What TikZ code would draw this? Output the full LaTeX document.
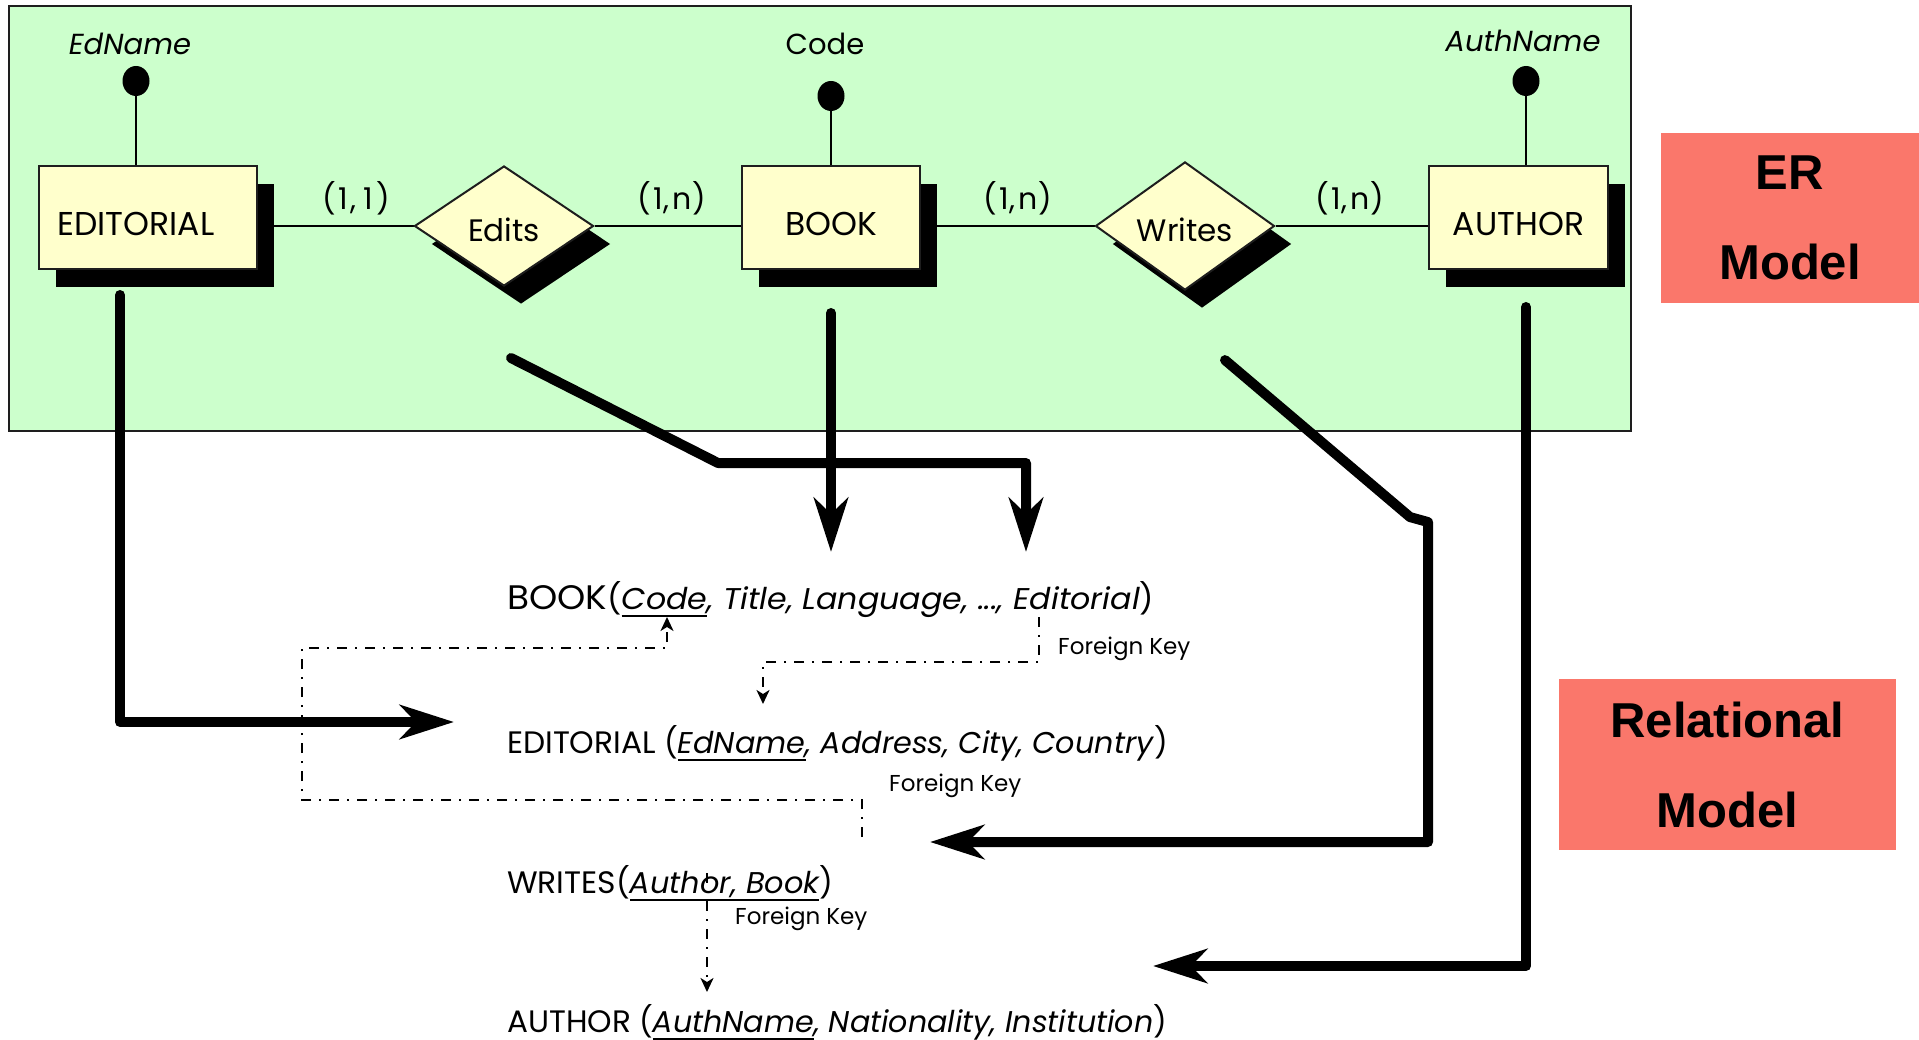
\documentclass[tikz,border=0pt]{standalone}
\usepackage{fontspec}
\usepackage{graphicx}
\setmainfont{Poppins}
\newfontfamily\tagfont{Liberation Sans}
\usetikzlibrary{arrows.meta,shapes.geometric,shadows,calc}
\pgfdeclarelayer{bg}
\pgfdeclarelayer{links}
\pgfsetlayers{bg,links,main}

\definecolor{ergreen}{HTML}{CCFFCC}
\definecolor{entfill}{HTML}{FFFFCC}
\definecolor{tagred}{HTML}{FA776B}
\definecolor{edgegray}{HTML}{1E1E1E}

% font size helper and key underline
\newcommand\setfs[2]{\fontsize{#1pt}{#2pt}\selectfont}
\newcommand\keyul[1]{\setbox0=\hbox{#1}\rlap{\rule[-8pt]{\wd0}{2.4pt}}\box0}

\tikzset{
  boxshadow/.style={general shadow={fill=black, shadow xshift=17pt, shadow yshift=-18pt}},
  frame/.style={rectangle, draw=edgegray, line width=2.5pt, fill=ergreen, inner sep=0pt},
  entity/.style={rectangle, draw=edgegray, line width=2pt, fill=entfill,
    minimum height=103pt, inner sep=0pt, text height=37pt, text depth=0pt,
    font=\setfs{33}{39}, boxshadow},
  relship/.style={diamond, draw=edgegray, line width=2pt, fill=entfill,
    minimum width=179pt, minimum height=120pt, inner sep=0pt,
    text height=32pt, text depth=0pt, font=\setfs{31}{37}, boxshadow},
  keydot/.style={ellipse, fill=black, minimum width=27pt, minimum height=30pt, inner sep=0pt},
  attr/.style={inner sep=0pt, anchor=base, font=\setfs{29}{35}\itshape},
  card/.style={inner sep=0pt, anchor=base, font=\setfs{30}{36}},
  erline/.style={line width=2pt, draw=black},
  rel/.style={inner sep=0pt, anchor=base west},
  fk/.style={inner sep=0pt, anchor=base west, font=\setfs{23}{28}},
  tag/.style={rectangle, fill=tagred, inner sep=0pt, align=center,
    font=\tagfont\bfseries\setfs{49}{90}},
  bigarrow/.style={line width=10pt, line cap=round, line join=round,
    -{Stealth[length=54pt,width=34pt,inset=16pt]}},
  fkline/.style={line width=2pt, dash pattern=on 10pt off 8pt on 2pt off 8pt,
    -{Stealth[length=14pt,width=13pt,inset=4pt]}}
}

\begin{document}
\begin{tikzpicture}[x=1pt,y=-1pt]
\useasboundingbox (0,0) rectangle (1919,1040);

% ---------- ER model ----------
\begin{pgfonlayer}{bg}
  \node[frame, minimum width=1622pt, minimum height=425pt] (erframe) at (820,218.5) {};
\end{pgfonlayer}

\node[entity, minimum width=218pt] (ed) at (148,217.5) {EDITORIAL\hspace*{24pt}};
\node[entity, minimum width=178pt] (book) at (831,217.5) {BOOK};
\node[entity, minimum width=179pt] (auth) at (1518.5,217.5) {AUTHOR};

\node[relship] (edits) at (504,226) {Edits};
\node[relship] (writes) at (1185,226) {Writes};

\node[keydot] (edkey) at (136,81) {};
\node[keydot] (bookkey) at (831,96) {};
\node[keydot] (authkey) at (1526,81) {};

\node[attr] (edname) at (130,55) {EdName};
\node[attr, font=\setfs{29}{35}] (code) at (825,55) {Code};
\node[attr] (authname) at (1523,52) {AuthName};

\node[card] (c1) at (356,210) {(\kern3pt1\kern2pt,\kern7pt1\kern3pt)};
\node[card] (c2) at (672,210) {(\kern2pt1\kern1pt,\kern3pt n\kern1pt)};
\node[card] (c3) at (1018,210) {(\kern2pt1\kern1pt,\kern3pt n\kern1pt)};
\node[card] (c4) at (1350,210) {(\kern2pt1\kern1pt,\kern3pt n\kern1pt)};

\begin{pgfonlayer}{links}
  \draw[erline] (edits.west) -- (edits.west -| ed.east);
  \draw[erline] (edits.east) -- (edits.east -| book.west);
  \draw[erline] (writes.west) -- (writes.west -| book.east);
  \draw[erline] (writes.east) -- (writes.east -| auth.west);
  \draw[erline] (edkey) -- (edkey |- ed.north);
  \draw[erline] (bookkey) -- (bookkey |- book.north);
  \draw[erline] (authkey) -- (authkey |- auth.north);
\end{pgfonlayer}

% ---------- side tags ----------
\node[tag, minimum width=258pt, minimum height=170pt] (ertag) at (1790,218) {ER\\Model};
\node[tag, minimum width=337pt, minimum height=171pt] (reltag) at (1727.5,764.5) {Relational\\Model};

% ---------- relational model ----------
\node[rel] (rbook) at (507,609) {\resizebox{647pt}{\height}{\setfs{34}{40}BOOK\setfs{30}{36}(\keyul{\itshape Code}\textit{, Title, Language, ..., Editorial})}};
\node[rel] (red) at (507,753) {\resizebox{661pt}{\height}{\setfs{31}{37}EDITORIAL \setfs{30}{36}(\keyul{\itshape EdName}\textit{, Address, City, Country})}};
\node[rel] (rwr) at (507,893) {\resizebox{326pt}{\height}{\setfs{31}{37}WRITES\setfs{30}{36}(\keyul{\itshape Author, Book})}};
\node[rel] (rau) at (507,1032) {\resizebox{660pt}{\height}{\setfs{31}{37}AUTHOR \setfs{30}{36}(\keyul{\itshape AuthName}\textit{, Nationality, Institution})}};

\node[fk] (fk1) at (1058,654) {Foreign Key};
\node[fk] (fk2) at (889,791) {Foreign Key};
\node[fk] (fk3) at (735,924) {Foreign Key};

% foreign key references
\draw[fkline] ($(rbook.base west)+(532,8)$) -- ++(0,45) -| ($(red.base west)+(256,-49)$);
\draw[fkline] ($(rwr.base west)+(355,-56)$) -- ++(0,-37) -- ++(-560,0)
  |- ($(rbook.base west)+(160,39)$) -- ($(rbook.base west)+(160,8)$);
\draw[fkline] ($(rwr.base west)+(200,-20)$) -- ($(rau.base west)+(200,-40)$);

% ---------- mapping arrows ----------
\draw[bigarrow] ($(ed.south west)+(82,25)$) |- ($(red.base west)+(-53,-31)$);
\draw[bigarrow] ($(edits.south)+(7,71)$) -- ($(edits.south)+(214,176)$) -| ($(rbook.base west)+(519,-57)$);
\draw[bigarrow] ($(book.south)+(0,43)$) -- ($(rbook.base west)+(324,-57)$);
\draw[bigarrow] ($(writes.south)+(40,69)$) -- ($(writes.south)+(225,226)$)
  -- ($(writes.south)+(243,231)$) |- ($(rwr.base west)+(423,-51)$);
\draw[bigarrow] ($(auth.south)+(7.5,37)$) |- ($(rau.base west)+(646,-66)$);
\end{tikzpicture}
\end{document}
